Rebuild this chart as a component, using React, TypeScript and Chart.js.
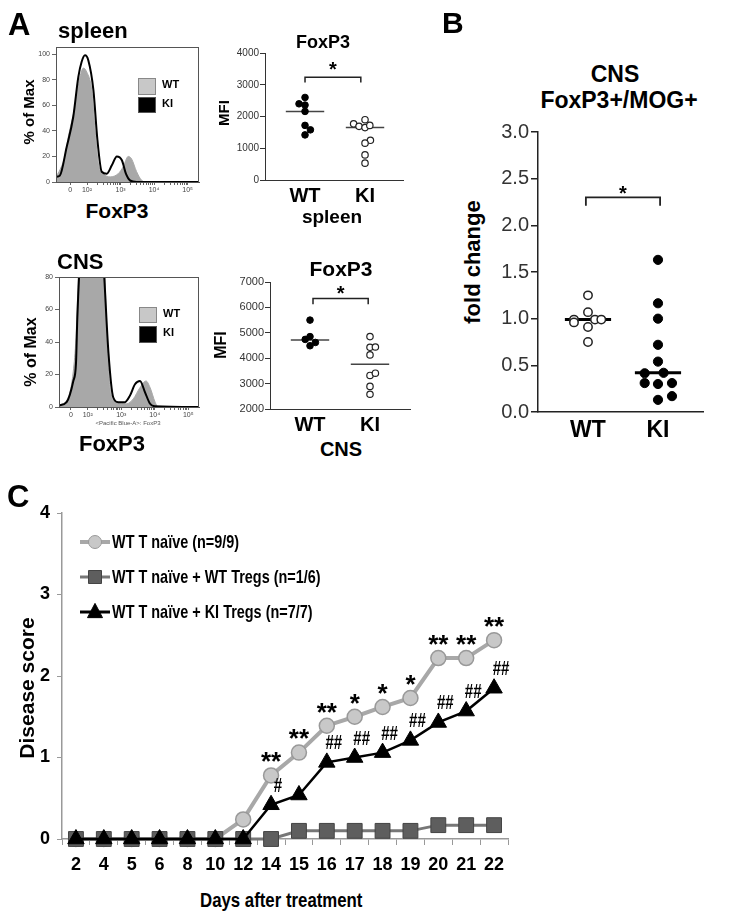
import React, { useEffect, useRef } from 'react';
import { Chart, registerables } from 'chart.js';

Chart.register(...registerables);

const SANS = "'Liberation Sans', Arial, Helvetica, sans-serif";
const NARROW = "'Liberation Sans Narrow', 'Arial Narrow', 'Liberation Sans', sans-serif";

// ===== Panel A: FoxP3 histograms (x = log10 fluorescence position, y = % of Max)
const spleenKI_pos = [1.07, 1.19, 1.39, 1.59, 1.74, 1.84, 1.94, 2.04, 2.19, 2.31, 2.44, 2.59, 2.74, 2.89, 3.04, 3.16, 3.28, 3.48, 4.0, 5.34];
const spleenKI_pct = [4, 5, 27, 51, 82, 94, 99, 95, 72, 33, 8, 6.5, 13, 20, 17, 6.5, 1.3, 0, 0, 0];
const spleenWT_pos = [1.07, 1.2, 1.34, 1.44, 1.64, 1.79, 1.89, 1.99, 2.14, 2.24, 2.34, 2.49, 2.69, 2.93, 3.08, 3.23, 3.33, 3.48, 3.63, 3.78, 5.34];
const spleenWT_pct = [4, 10, 20, 35, 59, 82, 89, 86, 72, 40, 14, 6.5, 4, 6.5, 12, 20, 18, 8, 1.3, 0, 0];
const cnsKI_pos = [1.14, 1.37, 1.57, 1.65, 1.69, 1.78, 2.1, 2.45, 2.62, 2.76, 2.91, 3.11, 3.26, 3.41, 3.56, 3.71, 3.86, 4.0, 5.32];
const cnsKI_pct = [1, 3, 16, 27, 55, 95, 170, 95, 33, 6, 3, 3, 7, 14, 16, 9, 2, 0.5, 0];
const cnsWT_pos = [1.14, 1.42, 1.57, 1.65, 1.74, 2.1, 2.5, 2.57, 2.69, 2.86, 3.16, 3.36, 3.56, 3.74, 3.86, 4.01, 4.1, 5.32];
const cnsWT_pct = [1, 6, 22, 43, 90, 170, 90, 43, 8, 3, 2, 5, 12, 16, 12, 3, 0, 0];
const histTickPos = [1.5, 2, 3, 4, 5];
const histTickLabels = ['0', '10²', '10³', '10⁴', '10⁵'];
const spleenPctTicks = [0, 20, 40, 60, 80, 100];
const cnsPctTicks = [0, 20, 40, 60, 80];

// ===== Panel A: MFI dot plots
const groups = ['WT', 'KI'];
const spleenMFI_WT = [2600, 2400, 2360, 2160, 1720, 1580, 1420];
const spleenMFI_WT_jitter = [0, -0.1, 0, 0, 0, 0.09, 0];
const spleenMFI_KI = [1900, 1770, 1690, 1650, 1720, 1250, 1160, 790, 530];
const spleenMFI_KI_jitter = [0, -0.19, -0.1, 0, 0.08, 0.09, 0, 0, 0];
const spleenMFI_median = [2160, 1650];
const spleenMFI_ticks = [0, 1000, 2000, 3000, 4000];
const spleenBracket = { from: 1.0, to: 1.93, top: 3240, leg: 3070, star: 3630 };

const cnsMFI_WT = [5500, 4850, 4740, 4620, 4490];
const cnsMFI_WT_jitter = [0, 0, -0.08, 0.09, 0];
const cnsMFI_KI = [4850, 4430, 4440, 4130, 3320, 3410, 2890, 2580];
const cnsMFI_KI_jitter = [0, 0, 0.09, 0, 0, 0.09, 0, 0];
const cnsMFI_median = [4715, 3760];
const cnsMFI_ticks = [2000, 3000, 4000, 5000, 6000, 7000];
const cnsBracket = { from: 1.05, to: 1.97, top: 6347, leg: 6125, star: 6740 };

// ===== Panel B: fold change
const foldWT = [1.25, 1.07, 0.99, 0.96, 0.99, 0.99, 0.91, 0.75];
const foldWT_jitter = [0, 0, -0.2, -0.2, 0.1, 0.19, 0, 0];
const foldKI = [1.63, 1.165, 1.0, 0.72, 0.54, 0.415, 0.42, 0.31, 0.3, 0.31, 0.13, 0.17];
const foldKI_jitter = [0, 0, 0, 0, 0, -0.19, 0.08, -0.19, 0, 0.2, 0, 0.2];
const foldMedian = [0.99, 0.42];
const foldTicks = [0, 0.5, 1, 1.5, 2, 2.5, 3];
const foldBracket = { from: 0.97, to: 2.03, top: 2.3, leg: 2.21, star: 2.39 };

// ===== Panel C: disease score
const days = ['2', '4', '5', '6', '8', '10', '12', '14', '15', '16', '17', '18', '19', '20', '21', '22'];
const naiveScore = [0, 0, 0, 0, 0, 0, 0.24, 0.78, 1.06, 1.39, 1.5, 1.62, 1.73, 2.22, 2.22, 2.44];
const wtTregScore = [0, 0, 0, 0, 0, 0, 0, 0, 0.1, 0.1, 0.1, 0.1, 0.1, 0.17, 0.17, 0.17];
const kiTregScore = [0, 0, 0, 0, 0, 0, 0, 0.42, 0.54, 0.94, 1.0, 1.06, 1.21, 1.43, 1.57, 1.85];
const naiveSig = ['', '', '', '', '', '', '', '**', '**', '**', '*', '*', '*', '**', '**', '**'];
const kiVsWtSig = ['', '', '', '', '', '', '', '#', '', '##', '##', '##', '##', '##', '##', '##'];
const scoreTicks = [0, 1, 2, 3, 4];
const seriesNames = ['WT T naïve (n=9/9)', 'WT T naïve + WT Tregs (n=1/6)', 'WT T naïve + KI Tregs (n=7/7)'];

// ---------- layout helpers
type Area = { l: number; t: number; r: number; b: number };
type Box = { left: number; top: number; width: number; height: number; area: Area };

function fixedLayout(box: Box) {
  return {
    padding: { left: 0, top: box.area.t - box.top, right: box.left + box.width - box.area.r, bottom: 0 },
    yWidth: box.area.l - box.left,
    xHeight: box.top + box.height - box.area.b,
  };
}

const hist1Box: Box = { left: 20, top: 40, width: 186, height: 158, area: { l: 56, t: 47, r: 199, b: 182 } };
const hist2Box: Box = { left: 20, top: 268, width: 186, height: 158, area: { l: 59, t: 277, r: 199, b: 407 } };
const dot1Box: Box = { left: 225, top: 45, width: 185, height: 165, area: { l: 265, t: 53, r: 403, b: 180 } };
const dot2Box: Box = { left: 228, top: 272, width: 189, height: 165, area: { l: 270, t: 282, r: 410, b: 409 } };
const bBox: Box = { left: 490, top: 118, width: 222, height: 330, area: { l: 538, t: 132, r: 703, b: 412 } };
const cBox: Box = { left: 10, top: 480, width: 512, height: 400, area: { l: 62, t: 513, r: 508, b: 839 } };

const framePlugin = {
  id: 'frame',
  afterDraw(chart: any) {
    const { ctx, chartArea: a } = chart;
    ctx.save();
    ctx.strokeStyle = '#555';
    ctx.lineWidth = 1;
    ctx.strokeRect(a.left + 0.5, a.top + 0.5, a.right - a.left - 1, a.bottom - a.top);
    ctx.restore();
  },
};

function histConfig(box: Box, kiPos: number[], kiPct: number[], wtPos: number[], wtPct: number[], xMin: number, xMax: number, yMax: number, yTicks: number[]) {
  const L = fixedLayout(box);
  const minor: number[] = [];
  for (let d = 2; d <= 4; d++) for (let k = 2; k <= 9; k++) minor.push(d + Math.log10(k));
  const allTicks = histTickPos.concat(minor);
  return {
    type: 'line',
    data: {
      datasets: [
        { label: 'KI', data: kiPos.map((x, i) => ({ x, y: kiPct[i] })), borderColor: '#000', borderWidth: 2, pointRadius: 0, fill: false, cubicInterpolationMode: 'monotone', order: 0 },
        { label: 'WT', data: wtPos.map((x, i) => ({ x, y: wtPct[i] })), borderColor: '#a8a8a8', backgroundColor: '#a8a8a8', borderWidth: 1, pointRadius: 0, fill: 'origin', cubicInterpolationMode: 'monotone', order: 1 },
      ],
    },
    options: {
      responsive: false, animation: false, devicePixelRatio: 1,
      layout: { padding: L.padding },
      plugins: { legend: { display: false }, tooltip: { enabled: false } },
      scales: {
        x: {
          type: 'linear', min: xMin, max: xMax,
          afterBuildTicks: (s: any) => { s.ticks = allTicks.map((v) => ({ value: v })); },
          ticks: {
            font: { family: SANS, size: 7 }, color: '#444', padding: 1, maxRotation: 0, autoSkip: false,
            callback: (v: number) => { const i = histTickPos.indexOf(v); return i >= 0 ? histTickLabels[i] : ''; },
          },
          grid: { display: true, drawOnChartArea: false, tickLength: 3, color: '#666' },
          border: { display: true, color: '#555' },
          afterFit: (s: any) => { s.height = L.xHeight; },
        },
        y: {
          type: 'linear', min: 0, max: yMax,
          afterBuildTicks: (s: any) => { s.ticks = yTicks.map((v) => ({ value: v })); },
          ticks: { font: { family: SANS, size: 7 }, color: '#444', padding: 2 },
          grid: { display: true, drawOnChartArea: false, tickLength: 4, color: '#666' },
          border: { display: true, color: '#555' },
          afterFit: (s: any) => { s.width = L.yWidth; },
        },
      },
    },
    plugins: [framePlugin],
  };
}

function bracketPlugin(b: any, starSize: number, lw: number) {
  return {
    id: 'bracket',
    afterDatasetsDraw(chart: any) {
      const { ctx } = chart;
      const x = chart.scales.x, y = chart.scales.y;
      const x1 = x.getPixelForValue(b.from), x2 = x.getPixelForValue(b.to);
      const yt = y.getPixelForValue(b.top), yl = y.getPixelForValue(b.leg);
      ctx.save();
      ctx.strokeStyle = '#222';
      ctx.lineWidth = lw;
      ctx.beginPath();
      ctx.moveTo(x1, yl); ctx.lineTo(x1, yt); ctx.lineTo(x2, yt); ctx.lineTo(x2, yl);
      ctx.stroke();
      ctx.fillStyle = '#000';
      ctx.font = `bold ${starSize}px ${SANS}`;
      ctx.textAlign = 'center';
      ctx.textBaseline = 'alphabetic';
      ctx.fillText('*', (x1 + x2) / 2, y.getPixelForValue(b.star) + 0.57 * starSize);
      ctx.restore();
    },
  };
}

function dotConfig(p: any) {
  const L = fixedLayout(p.box);
  const hw = p.medianHalf;
  return {
    type: 'scatter',
    data: {
      datasets: [
        { label: 'WT', data: p.wt.map((v: number, i: number) => ({ x: 1 + p.wtJit[i], y: v })), ...p.wtStyle, clip: false },
        { label: 'KI', data: p.ki.map((v: number, i: number) => ({ x: 2 + p.kiJit[i], y: v })), ...p.kiStyle, clip: false },
        { type: 'line', label: 'WT median', data: [{ x: 1 - hw, y: p.median[0] }, { x: 1 + hw, y: p.median[0] }], borderColor: p.medianColor, borderWidth: p.medianWidth, pointRadius: 0, showLine: true },
        { type: 'line', label: 'KI median', data: [{ x: 2 - hw, y: p.median[1] }, { x: 2 + hw, y: p.median[1] }], borderColor: p.medianColor, borderWidth: p.medianWidth, pointRadius: 0, showLine: true },
      ],
    },
    options: {
      responsive: false, animation: false, devicePixelRatio: 1,
      layout: { padding: L.padding },
      plugins: { legend: { display: false }, tooltip: { enabled: false } },
      scales: {
        x: {
          type: 'linear', min: p.xMin, max: p.xMax,
          afterBuildTicks: (s: any) => { s.ticks = [{ value: 1 }, { value: 2 }]; },
          ticks: { font: { family: SANS, size: p.catSize, weight: 'bold' }, color: '#000', padding: p.catPad, maxRotation: 0, autoSkip: false, callback: (v: number) => groups[v - 1] },
          grid: { display: false, drawTicks: false },
          border: { display: true, color: p.axisColor, width: p.axisWidth },
          afterFit: (s: any) => { s.height = L.xHeight; },
        },
        y: {
          type: 'linear', min: p.yTicks[0], max: p.yTicks[p.yTicks.length - 1],
          afterBuildTicks: (s: any) => { s.ticks = p.yTicks.map((v: number) => ({ value: v })); },
          ticks: { font: { family: SANS, size: p.tickSize }, color: p.tickColor, padding: p.tickPad, callback: p.tickFmt },
          grid: { display: true, drawOnChartArea: false, tickLength: p.tickLen, color: p.axisColor, lineWidth: p.axisWidth },
          border: { display: true, color: p.axisColor, width: p.axisWidth },
          afterFit: (s: any) => { s.width = L.yWidth; },
        },
      },
    },
    plugins: [bracketPlugin(p.bracket, p.starSize, p.bracketWidth)],
  };
}

const filledA = { pointRadius: 3.3, backgroundColor: '#000', borderColor: '#000', borderWidth: 1 };
const openA = { pointRadius: 3.2, backgroundColor: '#fff', borderColor: '#222', borderWidth: 1.2 };

const dot1Config = () => dotConfig({
  box: dot1Box, wt: spleenMFI_WT, wtJit: spleenMFI_WT_jitter, ki: spleenMFI_KI, kiJit: spleenMFI_KI_jitter,
  median: spleenMFI_median, yTicks: spleenMFI_ticks, xMin: 0.333, xMax: 2.633, medianHalf: 0.32,
  wtStyle: filledA, kiStyle: openA, medianColor: '#444', medianWidth: 1.5,
  catSize: 20, catPad: 4, axisColor: '#333', axisWidth: 1, tickSize: 10, tickColor: '#333', tickPad: 1, tickLen: 5,
  tickFmt: (v: number) => String(v), bracket: spleenBracket, starSize: 20, bracketWidth: 1.5,
});
const dot2Config = () => dotConfig({
  box: dot2Box, wt: cnsMFI_WT, wtJit: cnsMFI_WT_jitter, ki: cnsMFI_KI, kiJit: cnsMFI_KI_jitter,
  median: cnsMFI_median, yTicks: cnsMFI_ticks, xMin: 0.333, xMax: 2.667, medianHalf: 0.32,
  wtStyle: filledA, kiStyle: openA, medianColor: '#444', medianWidth: 1.5,
  catSize: 20, catPad: 4, axisColor: '#333', axisWidth: 1, tickSize: 11, tickColor: '#333', tickPad: 1, tickLen: 5,
  tickFmt: (v: number) => String(v), bracket: cnsBracket, starSize: 20, bracketWidth: 1.5,
});
const bConfig = () => dotConfig({
  box: bBox, wt: foldWT, wtJit: foldWT_jitter, ki: foldKI, kiJit: foldKI_jitter,
  median: foldMedian, yTicks: foldTicks, xMin: 0.286, xMax: 2.643, medianHalf: 0.33,
  wtStyle: { pointRadius: 4.2, backgroundColor: '#fff', borderColor: '#222', borderWidth: 1.5 },
  kiStyle: { pointRadius: 4.6, backgroundColor: '#000', borderColor: '#000', borderWidth: 1 },
  medianColor: '#000', medianWidth: 3,
  catSize: 23, catPad: 5, axisColor: '#222', axisWidth: 1.5, tickSize: 20, tickColor: '#333', tickPad: 2, tickLen: 7,
  tickFmt: (v: number) => v.toFixed(1), bracket: foldBracket, starSize: 20, bracketWidth: 1.8,
});

// ---------- Panel C
function drawMarker(ctx: any, style: string, x: number, y: number, r: number, fill: string, stroke: string) {
  ctx.beginPath();
  if (style === 'circle') ctx.arc(x, y, r, 0, Math.PI * 2);
  else if (style === 'rect') ctx.rect(x - r, y - r, 2 * r, 2 * r);
  else { ctx.moveTo(x, y - r * 1.15); ctx.lineTo(x + r, y + r * 0.75); ctx.lineTo(x - r, y + r * 0.75); ctx.closePath(); }
  ctx.fillStyle = fill; ctx.fill();
  ctx.strokeStyle = stroke; ctx.lineWidth = 1; ctx.stroke();
}

// draws text horizontally condensed (the original uses a narrow typeface)
function fillNarrow(ctx: any, text: string, x: number, y: number, sx: number) {
  ctx.save();
  ctx.translate(x, y);
  ctx.scale(sx, 1);
  ctx.fillText(text, 0, 0);
  ctx.restore();
}

const cLegendPlugin = {
  id: 'cLegend',
  afterDraw(chart: any) {
    const { ctx, chartArea: a } = chart;
    const rows = [29, 64, 99];
    const marks = [
      { style: 'circle', r: 6.5, fill: '#c8c8c8', stroke: '#999', line: '#a8a8a8', lw: 4 },
      { style: 'rect', r: 6.5, fill: '#5e5e5e', stroke: '#444', line: '#777', lw: 3 },
      { style: 'triangle', r: 7.5, fill: '#000', stroke: '#000', line: '#000', lw: 3 },
    ];
    ctx.save();
    seriesNames.forEach((name, i) => {
      const y = a.top + rows[i];
      const m = marks[i];
      ctx.strokeStyle = m.line; ctx.lineWidth = m.lw;
      ctx.beginPath(); ctx.moveTo(a.left + 18, y); ctx.lineTo(a.left + 48, y); ctx.stroke();
      drawMarker(ctx, m.style, a.left + 33, y, m.r, m.fill, m.stroke);
      ctx.fillStyle = '#000';
      ctx.font = `bold 19px ${NARROW}`;
      ctx.textAlign = 'left'; ctx.textBaseline = 'middle';
      fillNarrow(ctx, name, a.left + 50, y + 1, 0.76);
    });
    ctx.restore();
  },
};

const cSigPlugin = {
  id: 'cSig',
  afterDatasetsDraw(chart: any) {
    const { ctx } = chart;
    const circ = chart.getDatasetMeta(0).data;
    const tri = chart.getDatasetMeta(2).data;
    ctx.save();
    ctx.fillStyle = '#000';
    ctx.textAlign = 'center';
    ctx.textBaseline = 'alphabetic';
    naiveSig.forEach((s, i) => {
      if (!s) return;
      ctx.font = `bold 26px ${SANS}`;
      ctx.fillText(s, circ[i].x, circ[i].y - 20 + 0.57 * 26);
    });
    kiVsWtSig.forEach((s, i) => {
      if (!s) return;
      ctx.font = `bold 21px ${NARROW}`;
      fillNarrow(ctx, s, tri[i].x + 7, tri[i].y - 13, 0.72);
    });
    ctx.restore();
  },
};

const cConfig = () => {
  const L = fixedLayout(cBox);
  return {
    type: 'line',
    data: {
      labels: days,
      datasets: [
        { label: seriesNames[0], data: naiveScore, borderColor: '#a8a8a8', borderWidth: 4, pointStyle: 'circle', pointRadius: 7.5, pointBackgroundColor: '#c8c8c8', pointBorderColor: '#999', pointBorderWidth: 1.5, order: 3, clip: false },
        { label: seriesNames[1], data: wtTregScore, borderColor: '#777', borderWidth: 3, pointStyle: 'rect', pointRadius: 10.5, pointBackgroundColor: '#5e5e5e', pointBorderColor: '#444', pointBorderWidth: 1, order: 2, clip: false },
        { label: seriesNames[2], data: kiTregScore, borderColor: '#000', borderWidth: 2.5, pointStyle: 'triangle', pointRadius: 9.5, pointBackgroundColor: '#000', pointBorderColor: '#000', pointBorderWidth: 1, order: 1, clip: false },
      ],
    },
    options: {
      responsive: false, animation: false, devicePixelRatio: 1,
      layout: { padding: L.padding },
      plugins: { legend: { display: false }, tooltip: { enabled: false } },
      scales: {
        x: {
          type: 'category', offset: true,
          grid: { display: true, offset: true, drawOnChartArea: false, tickLength: 6, color: '#999' },
          border: { display: true, color: '#999', width: 1.5 },
          ticks: { font: { family: NARROW, size: 18, weight: 'bold' }, color: '#000', padding: 9, autoSkip: false, maxRotation: 0 },
          afterFit: (s: any) => { s.height = L.xHeight; },
        },
        y: {
          type: 'linear', min: 0, max: 4,
          afterBuildTicks: (s: any) => { s.ticks = scoreTicks.map((v) => ({ value: v })); },
          ticks: { font: { family: NARROW, size: 18, weight: 'bold' }, color: '#000', padding: 7 },
          grid: { display: true, drawOnChartArea: false, tickLength: 5, color: '#999' },
          border: { display: true, color: '#999', width: 1.5 },
          afterFit: (s: any) => { s.width = L.yWidth; },
        },
      },
    },
    plugins: [cSigPlugin, cLegendPlugin],
  };
};

function ChartCanvas({ box, make }: { box: Box; make: () => any }) {
  const ref = useRef<HTMLCanvasElement>(null);
  useEffect(() => {
    const chart = new Chart(ref.current as any, make());
    return () => chart.destroy();
  }, []);
  return (
    <div style={{ position: 'absolute', left: box.left, top: box.top, width: box.width, height: box.height }}>
      <canvas ref={ref} width={box.width} height={box.height} style={{ display: 'block' }} />
    </div>
  );
}

function Txt({ x, y, size, text, anchor = 'start', rotate = false, family = SANS, weight = 700, color = '#000', sx = 1 }: any) {
  const base: any = { position: 'absolute', fontFamily: family, fontWeight: weight, fontSize: size, lineHeight: 1, color, whiteSpace: 'nowrap' };
  if (rotate) {
    return <div style={{ ...base, left: x, top: y, transform: `translate(-50%, -50%) rotate(-90deg) scaleX(${sx})` }}>{text}</div>;
  }
  const tx = (anchor === 'middle' ? 'translateX(-50%) ' : '') + `scaleX(${sx})`;
  return <div style={{ ...base, left: x, top: y - 0.85 * size, transform: tx, transformOrigin: '0 0' }}>{text}</div>;
}

function LegendSwatch({ x, y, w, h, fill, border }: any) {
  return <div style={{ position: 'absolute', left: x, top: y, width: w, height: h, background: fill, border: `1px solid ${border}`, boxSizing: 'border-box' }} />;
}

export default function App() {
  return (
    <div style={{ position: 'absolute', left: 0, top: 0, width: 729, height: 922, background: '#fff', overflow: 'hidden' }}>
      <ChartCanvas box={hist1Box} make={() => histConfig(hist1Box, spleenKI_pos, spleenKI_pct, spleenWT_pos, spleenWT_pct, 1.075, 5.34, 105.5, spleenPctTicks)} />
      <ChartCanvas box={hist2Box} make={() => histConfig(hist2Box, cnsKI_pos, cnsKI_pct, cnsWT_pos, cnsWT_pct, 1.143, 5.32, 80, cnsPctTicks)} />
      <ChartCanvas box={dot1Box} make={dot1Config} />
      <ChartCanvas box={dot2Box} make={dot2Config} />
      <ChartCanvas box={bBox} make={bConfig} />
      <ChartCanvas box={cBox} make={cConfig} />

      {/* Panel A labels */}
      <Txt x={8} y={35} size={31} text="A" />
      <Txt x={58} y={39} size={22} text="spleen" />
      <Txt x={28} y={112} size={15} text="% of Max" rotate />
      <LegendSwatch x={138} y={78} w={18} h={17} fill="#c8c8c8" border="#888" />
      <LegendSwatch x={138} y={97} w={18} h={16} fill="#000" border="#555" />
      <Txt x={162} y={88} size={11} text="WT" />
      <Txt x={162} y={107} size={11} text="KI" />
      <Txt x={117} y={218} size={21} text="FoxP3" anchor="middle" />
      <Txt x={323} y={48} size={18} text="FoxP3" anchor="middle" />
      <Txt x={223} y={113} size={15} text="MFI" rotate />
      <Txt x={332} y={223} size={19} text="spleen" anchor="middle" />

      <Txt x={57} y={270} size={22} text="CNS" />
      <Txt x={31} y={352} size={16} text="% of Max" rotate />
      <LegendSwatch x={139} y={307} w={18} h={16} fill="#c8c8c8" border="#888" />
      <LegendSwatch x={139} y={326} w={18} h={17} fill="#000" border="#555" />
      <Txt x={163} y={317} size={11} text="WT" />
      <Txt x={163} y={336} size={11} text="KI" />
      <Txt x={128} y={425} size={6} weight={400} color="#555" text="<Pacific Blue-A>: FoxP3" anchor="middle" />
      <Txt x={112} y={452} size={22} text="FoxP3" anchor="middle" />
      <Txt x={341} y={276} size={21} text="FoxP3" anchor="middle" />
      <Txt x={221} y={345} size={16} text="MFI" rotate />
      <Txt x={341} y={456} size={20} text="CNS" anchor="middle" />

      {/* Panel B labels */}
      <Txt x={442} y={33} size={30} text="B" />
      <Txt x={615} y={83} size={23} text="CNS" anchor="middle" />
      <Txt x={619} y={109} size={23} text="FoxP3+/MOG+" anchor="middle" />
      <Txt x={473} y={262} size={22} text="fold change" rotate />

      {/* Panel C labels */}
      <Txt x={7} y={507} size={31} text="C" />
      <Txt x={200} y={907} size={21} family={NARROW} text="Days after treatment" sx={0.8} />
      <Txt x={26} y={688} size={21} family={NARROW} text="Disease score" rotate />
    </div>
  );
}
